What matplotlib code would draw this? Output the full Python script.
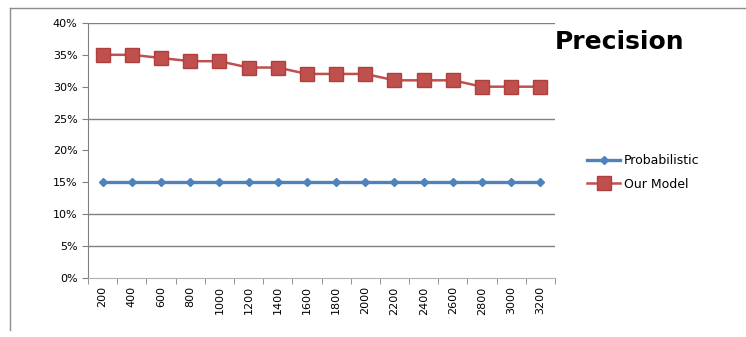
import numpy as np
import matplotlib.pyplot as plt
from matplotlib.lines import Line2D

# Precision of the two approaches for each sample size
sizes = ["200", "400", "600", "800", "1000", "1200", "1400", "1600",
         "1800", "2000", "2200", "2400", "2600", "2800", "3000", "3200"]
probabilistic = [15, 15, 15, 15, 15, 15, 15, 15, 15, 15, 15, 15, 15, 15, 15, 15]
our_model = [35, 35, 34.5, 34, 34, 33, 33, 32, 32, 32, 31, 31, 31, 30, 30, 30]

x = np.arange(len(sizes))

fig = plt.figure(figsize=(7.46, 3.37), dpi=100)
ax = fig.add_axes([0.118, 0.175, 0.626, 0.757])

# chart frame: top and left edges only
fig.lines.append(Line2D([0.013, 1.0], [0.975, 0.975], transform=fig.transFigure,
                        color="#8c8c8c", linewidth=1.0))
fig.lines.append(Line2D([0.013, 0.013], [0.975, 0.02], transform=fig.transFigure,
                        color="#8c8c8c", linewidth=1.0))

for y in [5, 10, 25, 40]:
    ax.axhline(y, color="#808080", linewidth=1.0, zorder=1)

ax.plot(x, probabilistic, color="#4F81BD", linewidth=2.4, marker="D",
        markersize=4.5, label="Probabilistic", zorder=3)
ax.plot(x, our_model, color="#C0504D", linewidth=1.8, marker="s",
        markersize=9.5, markeredgecolor="#B0403D", label="Our Model", zorder=3)

ax.set_xlim(-0.5, len(sizes) - 0.5)
ax.set_ylim(0, 40)
ax.set_yticks(np.arange(0, 41, 5))
ax.set_yticklabels([f"{v}%" for v in range(0, 41, 5)], fontsize=8)
ax.set_xticks(x)
ax.set_xticklabels(sizes, rotation=90, fontsize=8)
ax.set_xticks(np.arange(-0.5, len(sizes)), minor=True)
ax.tick_params(axis="x", which="major", length=0, pad=6)
ax.tick_params(axis="x", which="minor", length=4, color="#808080")
ax.tick_params(axis="y", length=4, color="#808080")

for side in ["top", "right"]:
    ax.spines[side].set_visible(False)
ax.spines["left"].set_color("#808080")
ax.spines["bottom"].set_color("#b0b0b0")

fig.text(0.744, 0.875, "Precision", fontsize=18, fontweight="bold",
         ha="left", va="center")

ax.legend(loc="upper left", bbox_to_anchor=(1.045, 0.53), frameon=False,
          fontsize=9, handlelength=2.6, handletextpad=0.3, labelspacing=0.85)

fig.savefig("out.png", dpi=100)
